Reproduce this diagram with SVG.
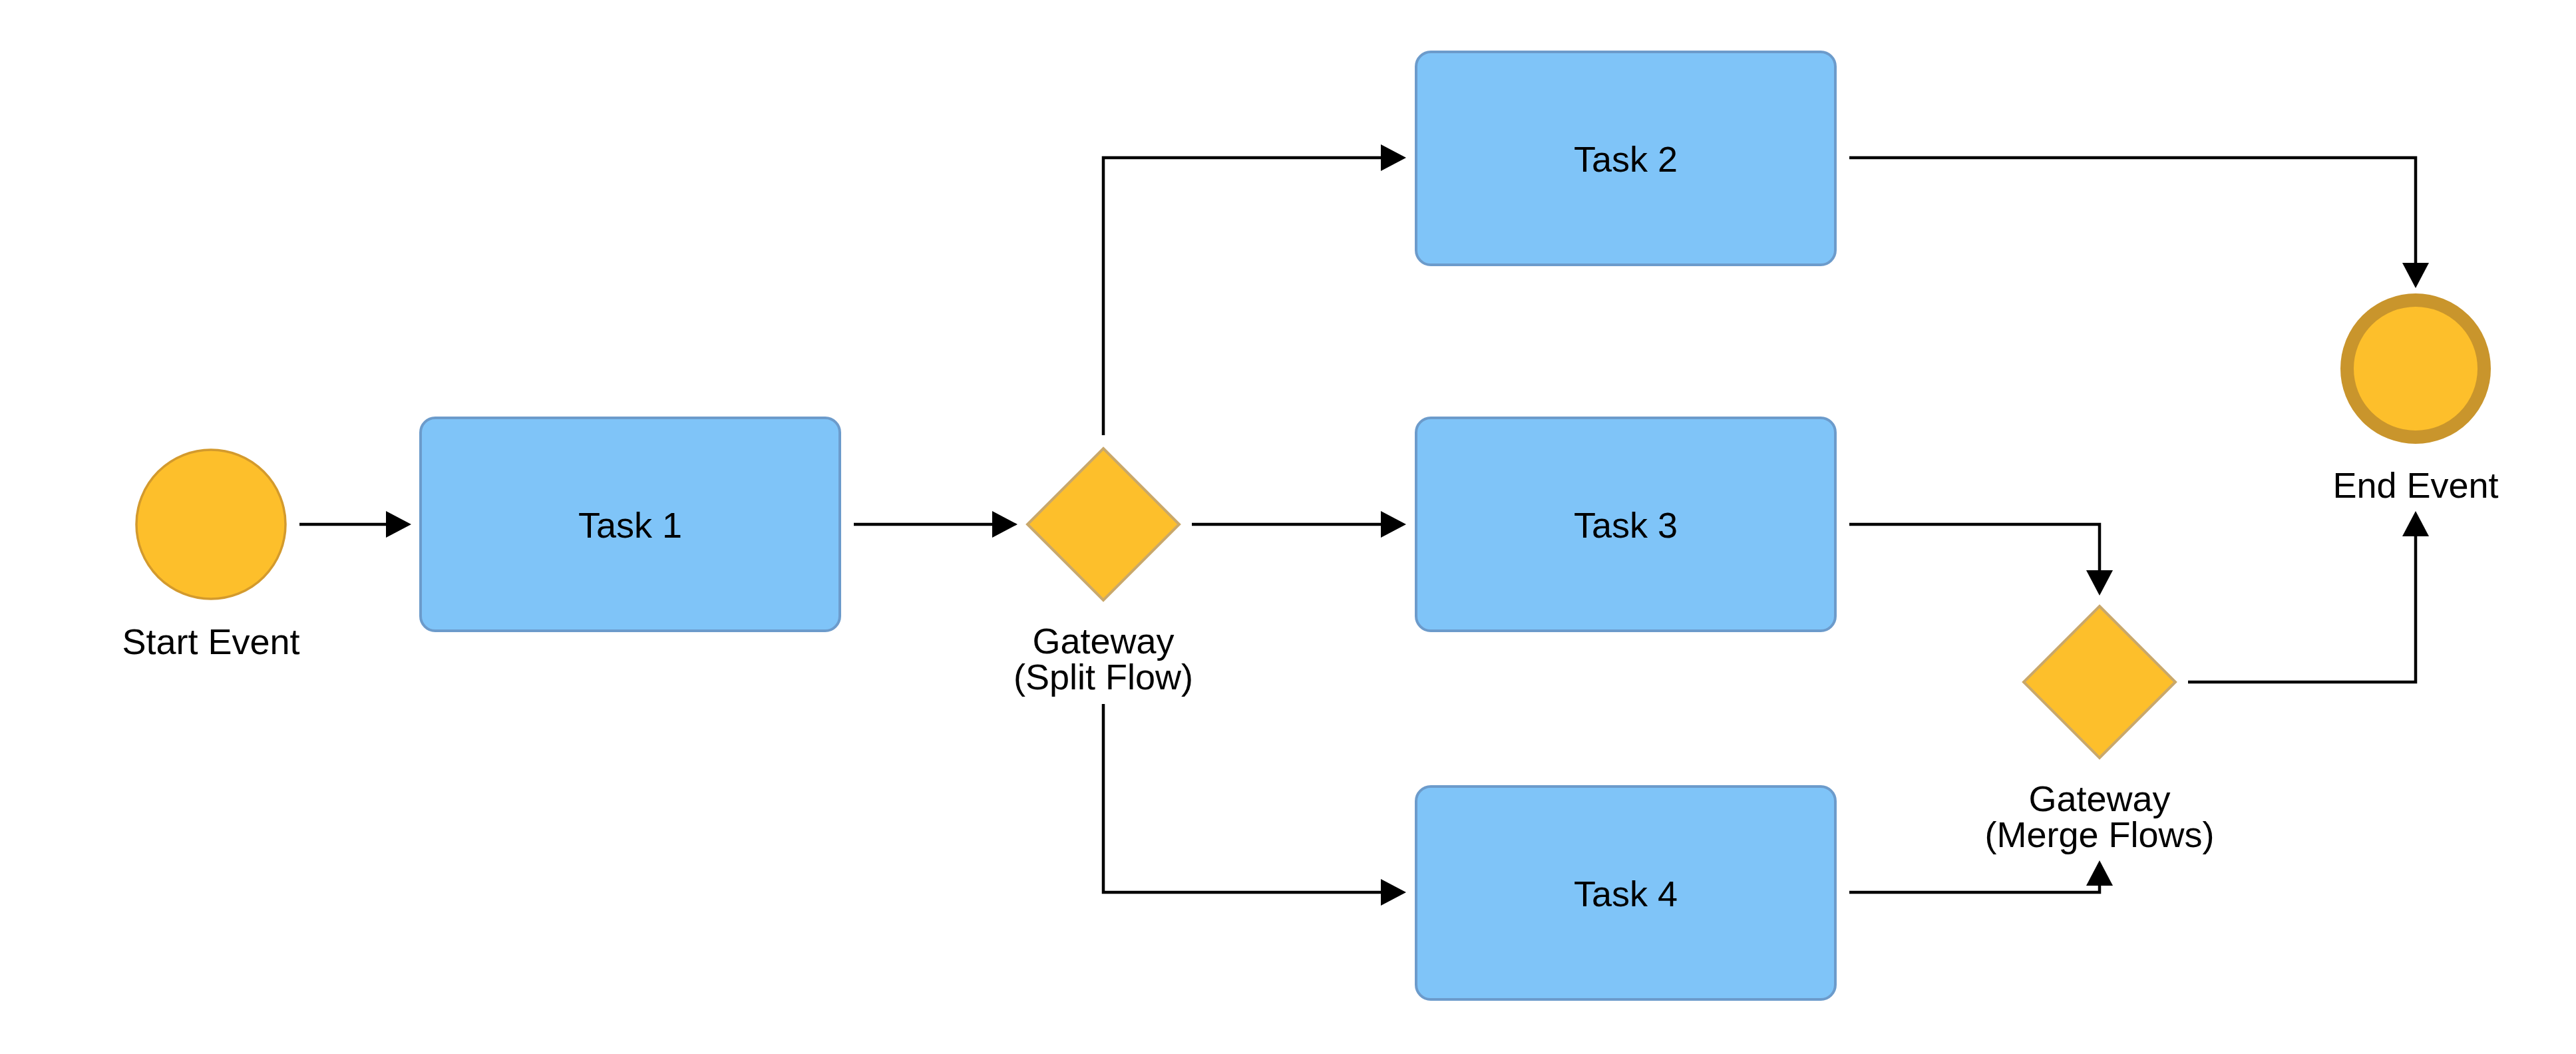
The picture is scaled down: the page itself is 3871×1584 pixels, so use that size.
<svg xmlns="http://www.w3.org/2000/svg" width="3871" height="1584" viewBox="0 0 3871 1584">
<style>
.task{fill:#7FC4F8;stroke:#6C9BCB;stroke-width:4}
.gw{fill:#FDBF2B;stroke:#C9A86B;stroke-width:4}
.ev{fill:#FDBF2B}
.lbl{font-family:"Liberation Sans",Arial,sans-serif;font-size:54px;fill:#000;text-anchor:middle}
.edge{fill:none;stroke:#000;stroke-width:4.5;marker-end:url(#arr)}
</style>
<defs>
<marker id="arr" markerUnits="userSpaceOnUse" markerWidth="40" markerHeight="42" refX="1" refY="21" orient="auto" viewBox="0 0 40 42">
<path d="M0,1 L38,21 L0,41 Z" fill="#000"/>
</marker>
</defs>
<rect width="3871" height="1584" fill="#fff"/>
<g id="connectors">
<path class="edge" d="M450,788 H581"/>
<path class="edge" d="M1283,788 H1492"/>
<path class="edge" d="M1658,654 V237 H2076"/>
<path class="edge" d="M1791,788 H2076"/>
<path class="edge" d="M1658,1058 V1341 H2076"/>
<path class="edge" d="M2779,237 H3630 V396"/>
<path class="edge" d="M2779,788 H3155 V858"/>
<path class="edge" d="M2779,1341 H3155 V1330"/>
<path class="edge" d="M3288,1025 H3630 V805"/>
</g>
<g id="start">
<circle class="ev" cx="317" cy="788" r="112" stroke="#D39A2D" stroke-width="3.5"/>
<text class="lbl" x="317" y="983">Start Event</text>
</g>
<g id="task1">
<rect class="task" x="632" y="628" width="630" height="320" rx="22"/>
<text class="lbl" x="947" y="808">Task 1</text>
</g>
<g id="split">
<polygon class="gw" points="1658,674 1772,788 1658,902 1544,788"/>
<text class="lbl" x="1658" y="982">Gateway</text>
<text class="lbl" x="1658" y="1036">(Split Flow)</text>
</g>
<g id="task2">
<rect class="task" x="2128" y="78" width="630" height="320" rx="22"/>
<text class="lbl" x="2443" y="258">Task 2</text>
</g>
<g id="task3">
<rect class="task" x="2128" y="628" width="630" height="320" rx="22"/>
<text class="lbl" x="2443" y="808">Task 3</text>
</g>
<g id="task4">
<rect class="task" x="2128" y="1182" width="630" height="320" rx="22"/>
<text class="lbl" x="2443" y="1362">Task 4</text>
</g>
<g id="merge">
<polygon class="gw" points="3155,911 3269,1025 3155,1139 3041,1025"/>
<text class="lbl" x="3155" y="1219">Gateway</text>
<text class="lbl" x="3155" y="1273">(Merge Flows)</text>
</g>
<g id="end">
<circle class="ev" cx="3630" cy="554" r="103" stroke="#C9952C" stroke-width="20"/>
<text class="lbl" x="3630" y="748">End Event</text>
</g>
</svg>
